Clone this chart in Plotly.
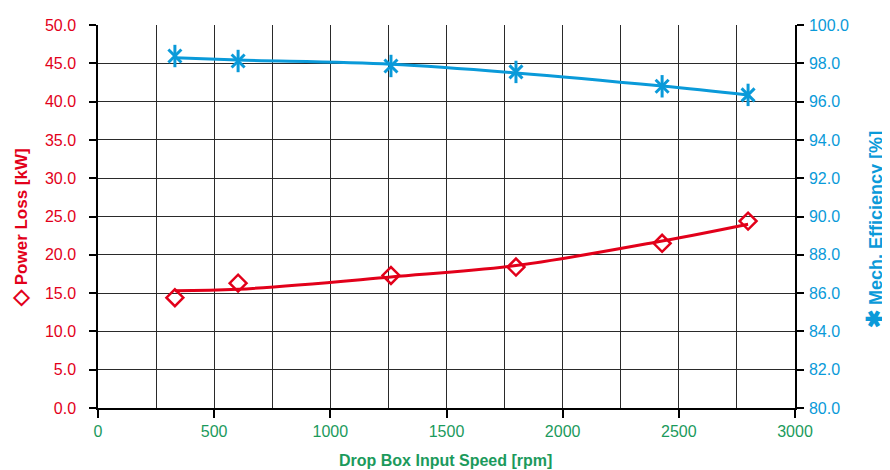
import plotly.graph_objects as go

# Data
speed_rpm = [331, 603, 1261, 1799, 2428, 2798]
power_loss_kw = [14.4, 16.3, 17.3, 18.4, 21.5, 24.4]
efficiency_pct = [98.38, 98.12, 97.86, 97.55, 96.8, 96.35]
# Trend curves (as drawn in the reference)
power_loss_trend = [15.3, 15.5, 17.1, 18.6, 21.8, 24.0]
efficiency_trend = [98.29, 98.17, 97.95, 97.5, 96.81, 96.34]

x_ticks = [0, 500, 1000, 1500, 2000, 2500, 3000]

RED = "#e2001a"
BLUE = "#0a9ad9"
GREEN = "#1b9a5c"
GRID = "#2a2a2a"
FONT = "Liberation Sans Narrow, Arial Narrow, Liberation Sans, sans-serif"
FS = 16

fig = go.Figure()

fig.add_trace(go.Scatter(x=speed_rpm, y=power_loss_trend, mode="lines",
                         line=dict(color=RED, width=3, shape="spline"),
                         hoverinfo="skip", showlegend=False))
fig.add_trace(go.Scatter(x=speed_rpm, y=power_loss_kw, mode="markers",
                         marker=dict(symbol="diamond-open", size=13,
                                     color=RED, line=dict(color=RED, width=2.5)),
                         name="Power Loss", showlegend=False))

fig.add_trace(go.Scatter(x=speed_rpm, y=efficiency_trend, mode="lines", yaxis="y2",
                         line=dict(color=BLUE, width=3, shape="spline"),
                         hoverinfo="skip", showlegend=False))
fig.add_trace(go.Scatter(x=speed_rpm, y=efficiency_pct, mode="markers", yaxis="y2",
                         marker=dict(symbol="x-thin-open", size=13,
                                     color=BLUE, line=dict(color=BLUE, width=3)),
                         name="Mech. Efficiency", showlegend=False))
fig.add_trace(go.Scatter(x=speed_rpm, y=efficiency_pct, mode="markers", yaxis="y2",
                         marker=dict(symbol="line-ns-open", size=16,
                                     color=BLUE, line=dict(color=BLUE, width=3)),
                         hoverinfo="skip", showlegend=False))

fig.update_layout(
    width=882, height=462,
    margin=dict(l=90, r=95, t=17, b=62, autoexpand=False),
    paper_bgcolor="white", plot_bgcolor="white",
    font=dict(family=FONT, size=FS),
    xaxis=dict(
        range=[0, 3000], tickvals=x_ticks, ticktext=[str(v) for v in x_ticks],
        showgrid=True, gridcolor=GRID, gridwidth=1.2,
        minor=dict(dtick=250, tick0=0, showgrid=True, gridcolor=GRID, gridwidth=1.2, ticks=""),
        showline=True, linecolor="black", linewidth=1.5,
        ticks="outside", ticklen=8, tickcolor="black", tickwidth=1.5,
        tickfont=dict(color=GREEN, size=FS, family=FONT),
        zeroline=False, automargin=False,
    ),
    yaxis=dict(
        range=[0, 50], dtick=5, tickformat=".1f",
        showgrid=True, gridcolor=GRID, gridwidth=1.2,
        showline=True, linecolor="black", linewidth=1.5,
        ticks="outside", ticklen=7, tickcolor="black", tickwidth=1.5,
        tickfont=dict(color=RED, size=FS, family=FONT),
        ticklabelstandoff=10,
        zeroline=False, automargin=False,
    ),
    yaxis2=dict(
        range=[80, 100], dtick=2, tickformat=".1f",
        overlaying="y", side="right",
        showgrid=False,
        showline=True, linecolor="black", linewidth=1.5,
        ticks="outside", ticklen=7, tickcolor="black", tickwidth=1.5,
        tickfont=dict(color=BLUE, size=FS, family=FONT),
        ticklabelstandoff=2,
        zeroline=False, automargin=False,
    ),
    annotations=[
        dict(text="<b><span style='font-size:21px'>◇</span> Power Loss [kW]</b>",
             xref="paper", yref="paper",
             x=-0.1119, y=0.47, xanchor="center", yanchor="middle",
             textangle=-90, showarrow=False,
             font=dict(color=RED, size=17, family=FONT)),
        dict(text="<b><span style='font-size:22px'>✱</span> Mech. Efficiency [%]</b>",
             xref="paper", yref="paper",
             x=1.1148, y=0.465, xanchor="center", yanchor="middle",
             textangle=-90, showarrow=False,
             font=dict(color=BLUE, size=18, family=FONT)),
        dict(text="<b>Drop Box Input Speed [rpm]</b>", xref="paper", yref="paper",
             x=0.499, y=-0.1358, xanchor="center", yanchor="middle",
             showarrow=False,
             font=dict(color=GREEN, size=FS, family=FONT)),
    ],
)

fig.write_html("out.html")
